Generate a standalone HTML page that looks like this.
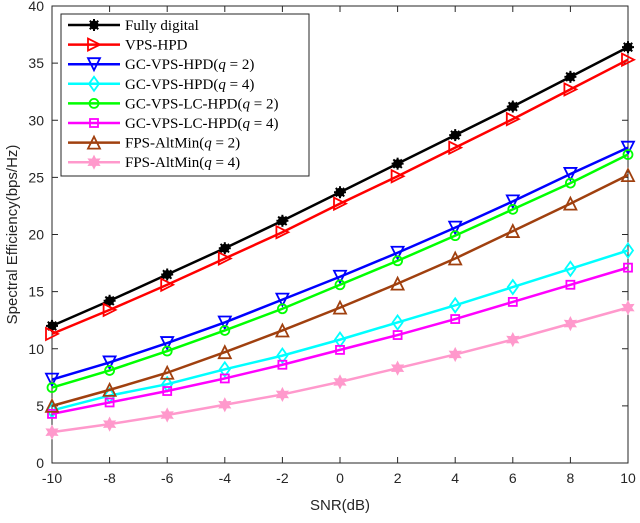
<!DOCTYPE html>
<html><head><meta charset="utf-8"><style>
body{margin:0;background:#fff;}
svg text{font-family:"Liberation Sans",sans-serif;}
</style></head><body>
<svg id="c" width="640" height="518" xmlns="http://www.w3.org/2000/svg"></svg>
<script>
const snr=[-10,-8,-6,-4,-2,0,2,4,6,8,10];
const xTicks=[-10,-8,-6,-4,-2,0,2,4,6,8,10];
const yTicks=[0,5,10,15,20,25,30,35,40];
const names=["Fully digital","VPS-HPD","GC-VPS-HPD","GC-VPS-HPD","GC-VPS-LC-HPD","GC-VPS-LC-HPD","FPS-AltMin","FPS-AltMin"];
const qVals=[null,null,2,4,2,4,2,4];
const fullyDigital=[12.0,14.2,16.5,18.8,21.2,23.7,26.2,28.7,31.2,33.8,36.4];
const vpsHpd=[11.3,13.4,15.6,17.9,20.2,22.7,25.1,27.6,30.1,32.7,35.3];
const gcVpsQ2=[7.3,8.8,10.5,12.3,14.3,16.3,18.4,20.6,22.9,25.3,27.6];
const gcVpsQ4=[4.6,5.9,6.9,8.2,9.4,10.8,12.3,13.8,15.4,17.0,18.6];
const gcLcQ2=[6.6,8.1,9.8,11.6,13.5,15.6,17.7,19.9,22.2,24.5,27.0];
const gcLcQ4=[4.3,5.3,6.3,7.4,8.6,9.9,11.2,12.6,14.1,15.6,17.1];
const fpsQ2=[5.0,6.4,7.9,9.7,11.6,13.6,15.7,17.9,20.3,22.7,25.2];
const fpsQ4=[2.7,3.4,4.2,5.1,6.0,7.1,8.3,9.5,10.8,12.2,13.6];
const series=[fullyDigital,vpsHpd,gcVpsQ2,gcVpsQ4,gcLcQ2,gcLcQ4,fpsQ2,fpsQ4];
const colors=["#000","#ff0000","#0000ff","#00ffff","#00ff00","#ff00ff","#a0400f","#ff99cc"];
const markers=["ast","tri-r","tri-d","dia","circ","sq","tri-u","star"];
const L=52,R=628,T=6,B=463;
const X=v=>L+(v+10)/20*(R-L);
const Y=v=>B-v/40*(B-T);
const svg=document.getElementById('c');
const NS="http://www.w3.org/2000/svg";
function el(t,a,p){const e=document.createElementNS(NS,t);for(const k in a)e.setAttribute(k,a[k]);(p||svg).appendChild(e);return e;}
// axes
const ax=el('rect',{x:L,y:T,width:R-L,height:B-T,fill:'#fff',stroke:'#262626','stroke-width':1});


xTicks.forEach(v=>{
 el('line',{x1:X(v),x2:X(v),y1:B,y2:B-6,stroke:'#262626'});
 el('line',{x1:X(v),x2:X(v),y1:T,y2:T+6,stroke:'#262626'});
 const t=el('text',{x:X(v),y:B+20,'text-anchor':'middle','font-size':14,fill:'#262626'});t.textContent=v;
 
 
});
yTicks.forEach(v=>{
 el('line',{x1:L,x2:L+6,y1:Y(v),y2:Y(v),stroke:'#262626'});
 el('line',{x1:R,x2:R-6,y1:Y(v),y2:Y(v),stroke:'#262626'});
 const t=el('text',{x:L-8,y:Y(v)+5,'text-anchor':'end','font-size':14,fill:'#262626'});t.textContent=v;
 
 
});
const xt=el('text',{x:(L+R)/2,y:510,'text-anchor':'middle','font-size':15,fill:'#262626'});xt.textContent='SNR(dB)';


const yt=el('text',{x:0,y:0,'text-anchor':'middle','font-size':15,fill:'#262626',transform:`translate(17,${(T+B)/2}) rotate(-90)`});yt.textContent='Spectral Efficiency(bps/Hz)';


function marker(type,x,y,c,g){
 const s=6,sw=1.8;
 if(type==='ast'){el('circle',{cx:x,cy:y,r:4.5,fill:c},g);for(let i=0;i<4;i++){const a=i*Math.PI/4;el('line',{x1:x-6*Math.cos(a),y1:y-6*Math.sin(a),x2:x+6*Math.cos(a),y2:y+6*Math.sin(a),stroke:c,'stroke-width':2},g);}}
 else if(type==='tri-r')el('polygon',{points:`${x-s},${y-s} ${x+s},${y} ${x-s},${y+s}`,fill:'none',stroke:c,'stroke-width':sw},g);
 else if(type==='tri-d')el('polygon',{points:`${x-s},${y-s} ${x+s},${y-s} ${x},${y+s}`,fill:'none',stroke:c,'stroke-width':sw},g);
 else if(type==='tri-u')el('polygon',{points:`${x-s},${y+s} ${x+s},${y+s} ${x},${y-s}`,fill:'none',stroke:c,'stroke-width':sw},g);
 else if(type==='dia')el('polygon',{points:`${x},${y-7} ${x+5},${y} ${x},${y+7} ${x-5},${y}`,fill:'none',stroke:c,'stroke-width':sw},g);
 else if(type==='circ')el('circle',{cx:x,cy:y,r:4.5,fill:'none',stroke:c,'stroke-width':sw},g);
 else if(type==='sq')el('rect',{x:x-4,y:y-4,width:8,height:8,fill:'none',stroke:c,'stroke-width':sw},g);
 else if(type==='star'){let p=[];for(let i=0;i<12;i++){const r=i%2?3.5:6.5,a=i*Math.PI/6-Math.PI/2;p.push((x+r*Math.cos(a))+','+(y+r*Math.sin(a)));}el('polygon',{points:p.join(' '),fill:c,stroke:c,'stroke-width':1},g);}
}
series.forEach((d,i)=>{
 const g=el('g',{});
 
 
 el('polyline',{points:d.map((v,j)=>X(snr[j])+','+Y(v)).join(' '),fill:'none',stroke:colors[i],'stroke-width':2.5},g);
 d.forEach((v,j)=>marker(markers[i],X(snr[j]),Y(v),colors[i],g));
});
// legend
const lg=el('g',{});


el('rect',{x:61,y:14,width:248,height:162,fill:'#fff',stroke:'#262626'},lg);
names.forEach((n,i)=>{
 const y=25+i*19.6;
 const e=el('g',{},lg);
 
 
 el('line',{x1:68,x2:120,y1:y,y2:y,stroke:colors[i],'stroke-width':2.5},e);
 marker(markers[i],94,y,colors[i],e);
 const t=el('text',{x:125,y:y+5,'font-size':15,fill:'#000',style:'font-family:"Liberation Serif",serif'},e);
 if(qVals[i]===null)t.textContent=n;
 else{t.textContent=n+'(';const q=el('tspan',{'font-style':'italic'},t);q.textContent='q';const r=el('tspan',{},t);r.textContent=' = '+qVals[i]+')';}
});
</script>
</body></html>
